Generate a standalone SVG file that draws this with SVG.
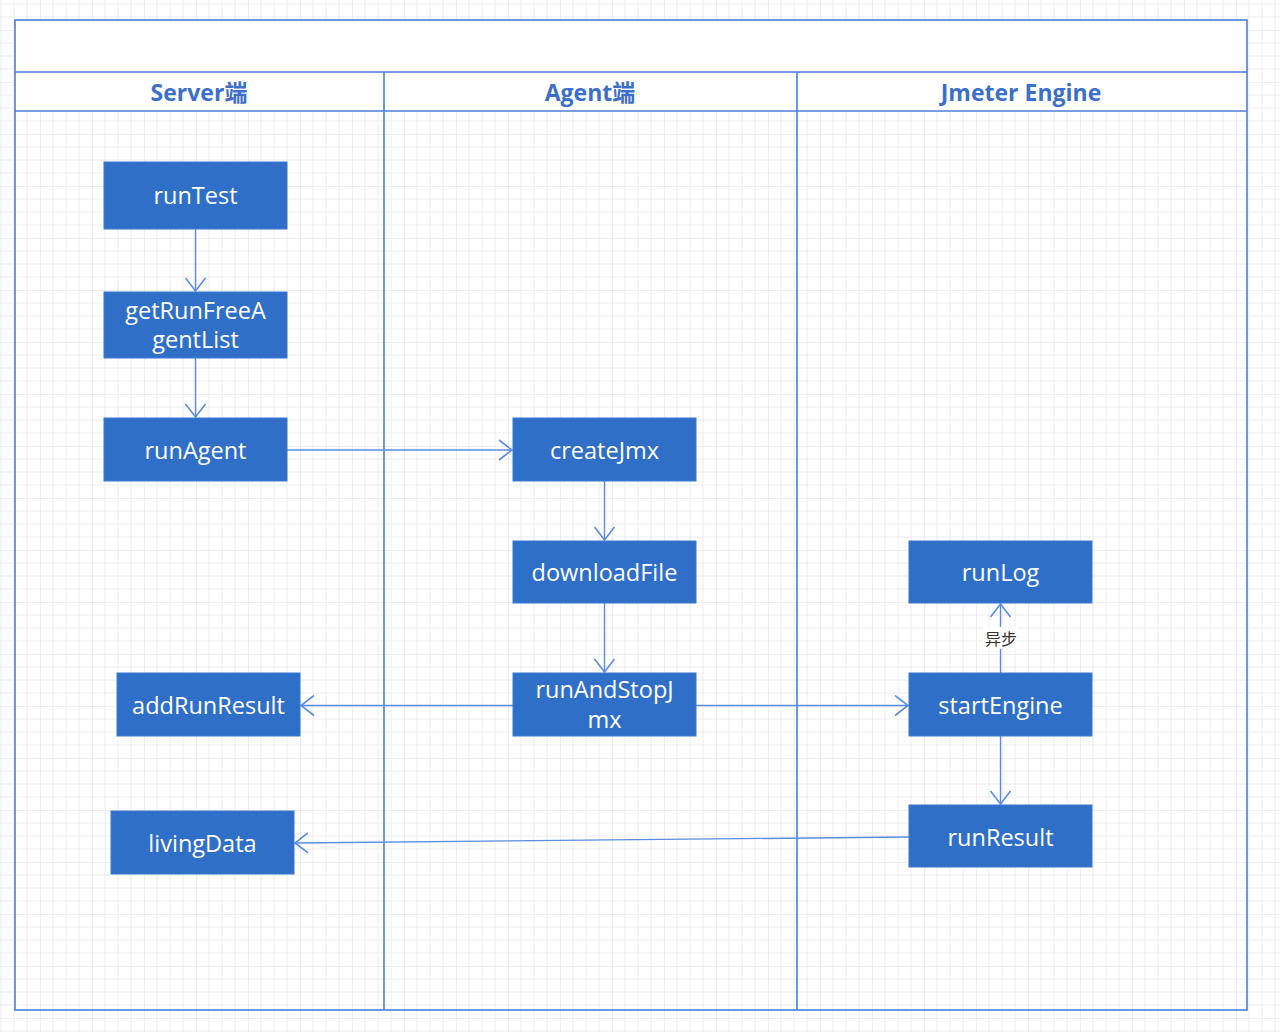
<svg xmlns="http://www.w3.org/2000/svg" width="1280" height="1032" viewBox="0 0 1280 1032">
<defs>
<pattern id="grid" patternUnits="userSpaceOnUse" x="40" y="30" width="52" height="52">
<path d="M13 0V52M26 0V52M39 0V52M0 13H52M0 26H52M0 39H52" stroke="#ececec" stroke-width="1" fill="none"/>
<path d="M0 0V52M0 0H52" stroke="#dedede" stroke-width="1" fill="none"/>
</pattern>
<marker id="arr" markerUnits="userSpaceOnUse" markerWidth="24" markerHeight="24" refX="15" refY="11" orient="auto" viewBox="0 0 24 24">
<path d="M2 1L15 11L2 21" fill="none" stroke="#5a8de0" stroke-width="1.6"/>
</marker>
<style>
.node rect{fill:#2f6fc8;stroke:#3b7ad2;stroke-width:1}
.node text{fill:#ffffff;font-family:"Open Sans","Noto Sans",sans-serif;font-size:23.5px;text-anchor:middle;dominant-baseline:central}
.lane{fill:none;stroke:#4a7fd8;stroke-width:1.6}
.lanehdr{fill:#3b6fc9;font-family:"Open Sans","Noto Sans","Noto Sans CJK SC",sans-serif;font-size:23px;font-weight:bold;text-anchor:middle;dominant-baseline:central}
.conn path{fill:none;stroke:#5a8de0;stroke-width:1.4;marker-end:url(#arr)}
</style>
</defs>
<rect width="1280" height="1032" fill="#ffffff"/>
<rect width="1280" height="1032" fill="url(#grid)"/>
<g id="pool">
<rect x="15" y="20" width="1232" height="91" fill="#ffffff"/>
<rect class="lane" x="15" y="20" width="1232" height="990"/>
<path class="lane" d="M15 72H1247M15 111H1247M384 72V1010M797 72V1010"/>
<text class="lanehdr" x="199" y="92">Server端</text>
<text class="lanehdr" x="590" y="92">Agent端</text>
<text class="lanehdr" x="1021" y="92">Jmeter Engine</text>
</g>
<g id="connectors" class="conn">
<path d="M195.5 229V291"/>
<path d="M195.5 358V417"/>
<path d="M287 450H512"/>
<path d="M604.5 481V540"/>
<path d="M604.5 603V672"/>
<path d="M513 705.5H301"/>
<path d="M696 705.5H908"/>
<path d="M1000.5 673V604"/>
<path d="M1000.5 736V804"/>
<path d="M909 837L295 843"/>
</g>
<g id="label-async">
<rect x="983" y="627" width="36" height="22" fill="#ffffff"/>
<text x="1001" y="638" fill="#333333" font-family="Noto Sans CJK SC,sans-serif" font-size="16" text-anchor="middle" dominant-baseline="central">异步</text>
</g>
<g id="runTest" class="node"><rect x="104" y="162" width="183" height="67"/><text x="195.5" y="195">runTest</text></g>
<g id="getRunFreeAgentList" class="node"><rect x="104" y="292" width="183" height="66"/><text x="195.5" y="310">getRunFreeA</text><text x="195.5" y="339">gentList</text></g>
<g id="runAgent" class="node"><rect x="104" y="418" width="183" height="63"/><text x="195.5" y="450">runAgent</text></g>
<g id="createJmx" class="node"><rect x="513" y="418" width="183" height="63"/><text x="604.5" y="450">createJmx</text></g>
<g id="downloadFile" class="node"><rect x="513" y="541" width="183" height="62"/><text x="604.5" y="572">downloadFile</text></g>
<g id="runAndStopJmx" class="node"><rect x="513" y="673" width="183" height="63"/><text x="604.5" y="689">runAndStopJ</text><text x="604.5" y="719">mx</text></g>
<g id="addRunResult" class="node"><rect x="117" y="673" width="183" height="63"/><text x="208.5" y="705">addRunResult</text></g>
<g id="livingData" class="node"><rect x="111" y="811" width="183" height="63"/><text x="202.5" y="843">livingData</text></g>
<g id="runLog" class="node"><rect x="909" y="541" width="183" height="62"/><text x="1000.5" y="572">runLog</text></g>
<g id="startEngine" class="node"><rect x="909" y="673" width="183" height="63"/><text x="1000.5" y="705">startEngine</text></g>
<g id="runResult" class="node"><rect x="909" y="805" width="183" height="62"/><text x="1000.5" y="837">runResult</text></g>
</svg>
